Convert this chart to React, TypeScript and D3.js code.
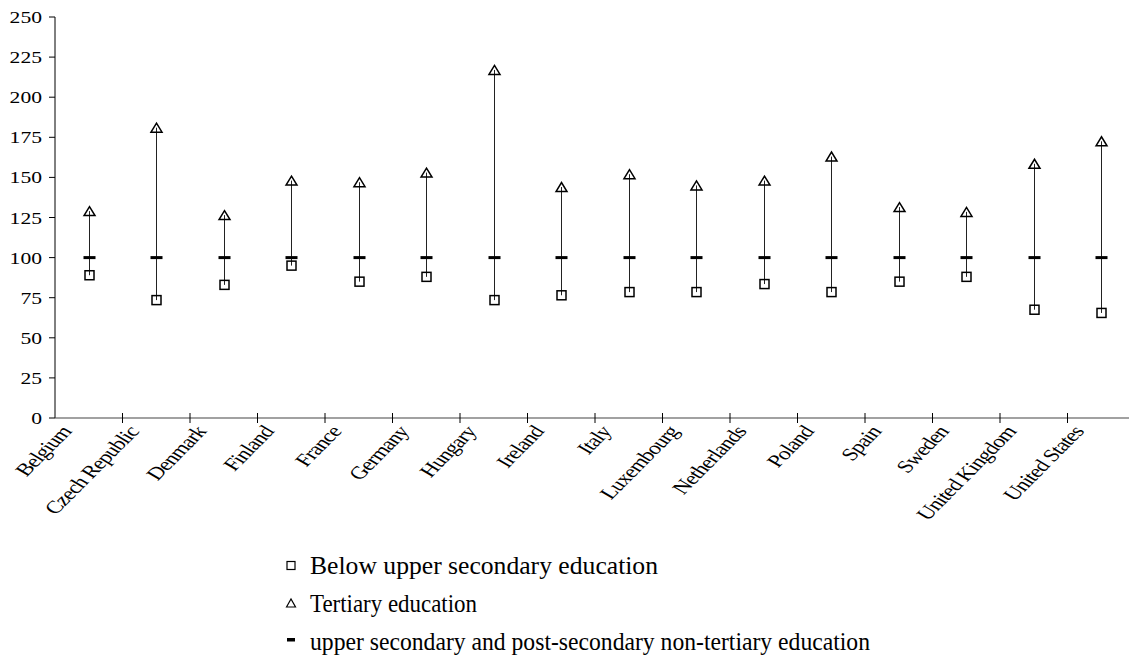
import React from "react";
import * as d3 from "d3";

const countries = [
  "Belgium", "Czech Republic", "Denmark", "Finland", "France", "Germany",
  "Hungary", "Ireland", "Italy", "Luxembourg", "Netherlands", "Poland",
  "Spain", "Sweden", "United Kingdom", "United States",
];
const tertiary = [129, 181, 126.5, 148, 147, 153, 217, 144, 152, 145, 148, 163, 131.5, 128.5, 158.5, 172.5];
const belowUpper = [89, 73.5, 83, 95, 85, 88, 73.5, 76.5, 78.5, 78.5, 83.5, 78.5, 85, 88, 67.5, 65.5];
const upperSecondary = [100, 100, 100, 100, 100, 100, 100, 100, 100, 100, 100, 100, 100, 100, 100, 100];
const yTicks = [0, 25, 50, 75, 100, 125, 150, 175, 200, 225, 250];
const legendLabels = [
  "Below upper secondary education",
  "Tertiary education",
  "upper secondary and post-secondary non-tertiary education",
];

const W = 1129;
const H = 657;
const FONT = "'Liberation Serif', 'Times New Roman', Times, serif";
const SX = 1.3;
const THETA = (Math.atan(SX) * 180) / Math.PI;

export default function App() {
  const x = d3.scaleBand<string>().domain(countries).range([55, 1135]);
  const y = d3.scaleLinear().domain([0, 250]).range([418, 17]);
  const bw = x.bandwidth();
  const cx = (c: string) => (x(c) as number) + bw / 2;

  const tri = (px: number, py: number, w: number, h: number) =>
    `M${px - w / 2},${py + h / 2}L${px},${py - h / 2}L${px + w / 2},${py + h / 2}Z`;

  const legendMarkY = [565.5, 603, 640];
  const legendBase = [574, 612, 650];
  const legendLen = [348, 167, 560];

  return (
    <svg
      width={W}
      height={H}
      style={{ position: "absolute", left: 0, top: 0, display: "block", background: "#fff" }}
      fontFamily={FONT}
    >
      {/* y axis */}
      <line x1={55} x2={55} y1={y(250)} y2={y(0)} stroke="#000" strokeWidth={1} />
      {yTicks.map((t) => (
        <g key={t}>
          <line x1={49} x2={55} y1={y(t)} y2={y(t)} stroke="#000" strokeWidth={1} />
          <text
            transform={`translate(42,${y(t) + 6}) scale(1.27,1)`}
            textAnchor="end"
            fontSize={17}
            fill="#000"
          >
            {t}
          </text>
        </g>
      ))}
      {/* x axis */}
      <line x1={55} x2={1135} y1={y(0)} y2={y(0)} stroke="#444" strokeWidth={1.2} />
      {countries.map((c, i) => (
        <line
          key={"tk" + i}
          x1={(x(c) as number) + bw}
          x2={(x(c) as number) + bw}
          y1={y(0) - 5}
          y2={y(0) + 5}
          stroke="#000"
          strokeWidth={1}
        />
      ))}
      {countries.map((c) => (
        <text
          key={"lb" + c}
          transform={`translate(${cx(c) - 23},${428}) scale(${SX},1) rotate(${-THETA})`}
          textAnchor="end"
          dy="0.35em"
          fontSize={18}
          letterSpacing={-0.6}
          fill="#000"
        >
          {c}
        </text>
      ))}
      {/* high-low lines */}
      {countries.map((c, i) => (
        <line
          key={"hl" + i}
          x1={Math.round(cx(c)) + 0.5}
          x2={Math.round(cx(c)) + 0.5}
          y1={y(tertiary[i])}
          y2={y(belowUpper[i])}
          stroke="#222"
          strokeWidth={1}
        />
      ))}
      {/* upper secondary dash */}
      {countries.map((c, i) => (
        <rect
          key={"us" + i}
          x={Math.round(cx(c)) + 0.5 - 6}
          y={y(upperSecondary[i]) - 1.5}
          width={12}
          height={3}
          fill="#000"
        />
      ))}
      {/* tertiary triangles */}
      {countries.map((c, i) => (
        <path
          key={"tr" + i}
          d={tri(Math.round(cx(c)) + 0.5, y(tertiary[i]), 11, 9)}
          fill="none"
          stroke="#000"
          strokeWidth={1.5}
        />
      ))}
      {/* below upper secondary squares */}
      {countries.map((c, i) => (
        <rect
          key={"sq" + i}
          x={Math.round(cx(c)) + 0.5 - 4.5}
          y={y(belowUpper[i]) - 4.5}
          width={9}
          height={9}
          fill="none"
          stroke="#000"
          strokeWidth={1.5}
        />
      ))}
      {/* legend */}
      <rect x={287} y={legendMarkY[0] - 4} width={8} height={8} fill="none" stroke="#000" strokeWidth={1.2} />
      <path d={tri(291, legendMarkY[1], 9, 8)} fill="none" stroke="#000" strokeWidth={1.2} />
      <rect x={287} y={legendMarkY[2] - 2} width={8} height={3.5} fill="#000" />
      {legendLabels.map((l, i) => (
        <text
          key={"lg" + i}
          x={310}
          y={legendBase[i]}
          fontSize={25}
          fill="#000"
          textLength={legendLen[i]}
          lengthAdjust="spacingAndGlyphs"
        >
          {l}
        </text>
      ))}
    </svg>
  );
}
